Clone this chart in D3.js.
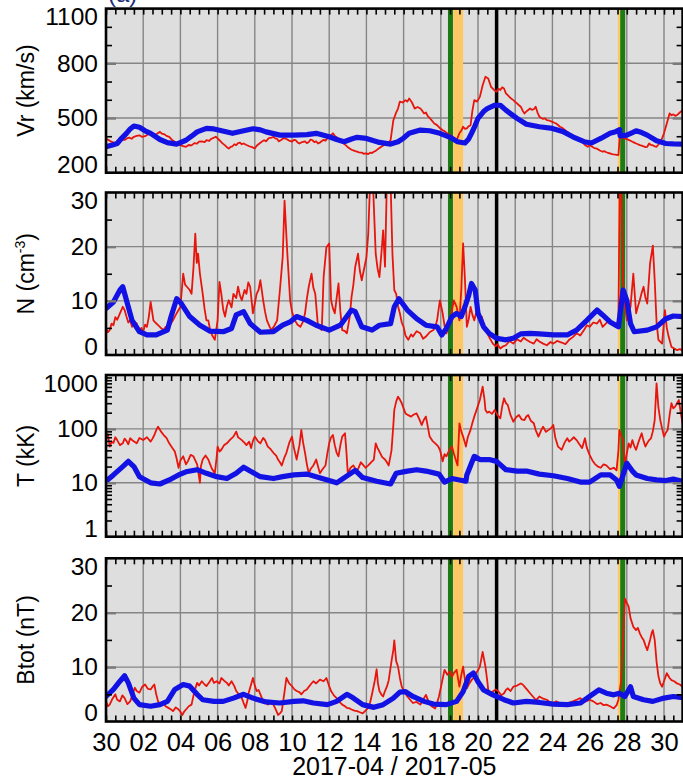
<!DOCTYPE html>
<html><head><meta charset="utf-8">
<script src="https://cdn.jsdelivr.net/npm/d3@7"></script>
<style>
body{margin:0;background:#fff;}
text{font-family:"Liberation Sans",Arial,Helvetica,sans-serif;}
</style>
</head><body>
<svg id="chart" width="683" height="778"></svg>
<script>
// ---------- DATA ----------
const START = Date.UTC(2017, 3, 30);           // 2017-04-30 00:00 UT
const xTickDays   = [0,2,4,6,8,10,12,14,16,18,20,22,24,26,28,30];
const xTickLabels = ["30","02","04","06","08","10","12","14","16","18","20","22","24","26","28","30"];
const xTitle = "2017-04 / 2017-05";
const greenLines = [18.52, 27.78];
const orangeBands = [[18.67, 19.2], [27.52, 27.67]];
const blackLines = [21.0];

const vrTicks = [200, 500, 800, 1100];
const nTicks  = [0, 10, 20, 30];
const tTicks  = [1, 10, 100, 1000];
const bTicks  = [0, 10, 20, 30];

// [day since Apr 30, value]
const vrRed = [[0,388],[0.12,380],[0.25,372],[0.38,366],[0.5,362],[0.62,375],[0.75,370],[0.88,382],[1.0,380],[1.12,388],[1.25,392],[1.38,386],[1.5,397],[1.65,402],[1.8,405],[1.95,396],[2.1,400],[2.25,410],[2.4,416],[2.55,405],[2.7,410],[2.8,418],[2.9,424],[3.0,414],[3.15,410],[3.25,402],[3.4,397],[3.55,380],[3.7,370],[3.85,358],[4.0,351],[4.15,346],[4.3,342],[4.45,352],[4.6,350],[4.75,362],[4.9,360],[5.0,370],[5.15,372],[5.3,368],[5.4,378],[5.55,374],[5.65,385],[5.8,392],[5.9,397],[6.0,388],[6.1,378],[6.25,362],[6.4,350],[6.5,340],[6.6,332],[6.7,342],[6.8,345],[6.9,356],[7.0,351],[7.1,362],[7.2,365],[7.3,356],[7.4,360],[7.55,352],[7.7,345],[7.85,340],[8.0,333],[8.1,348],[8.25,360],[8.4,372],[8.5,378],[8.6,372],[8.75,390],[8.9,392],[9.0,397],[9.1,388],[9.2,385],[9.3,372],[9.4,378],[9.55,390],[9.7,385],[9.85,376],[10.0,370],[10.1,380],[10.2,378],[10.3,366],[10.4,360],[10.55,368],[10.7,372],[10.8,362],[10.9,368],[11.0,382],[11.1,378],[11.2,368],[11.3,372],[11.4,360],[11.5,365],[11.6,374],[11.7,380],[11.8,376],[11.9,388],[12.05,400],[12.2,416],[12.3,402],[12.4,395],[12.5,385],[12.6,378],[12.75,362],[12.9,350],[13.0,340],[13.1,333],[13.2,326],[13.3,322],[13.4,318],[13.5,315],[13.6,312],[13.75,310],[13.85,304],[14.0,306],[14.1,302],[14.2,310],[14.3,308],[14.4,315],[14.5,320],[14.6,328],[14.7,335],[14.8,342],[14.95,352],[15.1,360],[15.2,368],[15.3,378],[15.45,488],[15.6,530],[15.7,552],[15.8,590],[15.95,585],[16.1,598],[16.2,590],[16.3,607],[16.45,585],[16.6,552],[16.75,560],[16.9,552],[17.0,540],[17.1,525],[17.2,530],[17.3,510],[17.4,500],[17.5,488],[17.65,470],[17.8,461],[17.95,445],[18.1,433],[18.2,428],[18.3,420],[18.4,412],[18.5,406],[18.6,396],[18.7,390],[18.85,378],[19.0,416],[19.1,430],[19.2,452],[19.3,440],[19.4,443],[19.5,455],[19.6,461],[19.7,540],[19.8,598],[19.95,590],[20.1,616],[20.25,680],[20.4,726],[20.55,717],[20.7,671],[20.85,655],[21.0,644],[21.1,660],[21.2,653],[21.3,668],[21.4,662],[21.5,635],[21.6,625],[21.7,615],[21.8,605],[21.9,598],[22.0,588],[22.1,580],[22.2,570],[22.3,562],[22.4,540],[22.5,525],[22.65,540],[22.8,552],[22.9,545],[23.0,548],[23.1,562],[23.2,530],[23.3,507],[23.4,500],[23.5,495],[23.6,498],[23.7,488],[23.85,485],[24.0,479],[24.1,474],[24.2,470],[24.3,462],[24.4,452],[24.5,448],[24.6,440],[24.7,432],[24.8,424],[24.95,410],[25.1,397],[25.2,392],[25.3,385],[25.45,378],[25.6,370],[25.75,352],[25.9,342],[26.0,350],[26.1,345],[26.25,335],[26.4,332],[26.55,322],[26.7,315],[26.8,318],[26.9,312],[27.0,308],[27.1,306],[27.2,302],[27.3,300],[27.45,298],[27.55,297],[27.62,397],[27.75,392],[27.9,388],[28.0,384],[28.1,380],[28.2,375],[28.3,370],[28.4,365],[28.5,360],[28.6,356],[28.7,351],[28.8,348],[28.9,345],[29.0,340],[29.1,342],[29.2,360],[29.3,352],[29.4,350],[29.5,345],[29.6,342],[29.7,355],[29.8,370],[29.9,390],[30.0,416],[30.15,470],[30.3,525],[30.4,515],[30.5,520],[30.6,512],[30.7,516],[30.85,530],[31.0,543]];
const vrBlue = [[0,342],[0.3,350],[0.6,360],[0.85,390],[1.1,416],[1.3,440],[1.5,456],[1.8,449],[2.1,430],[2.4,416],[2.9,382],[3.3,365],[3.8,357],[4.3,378],[4.6,400],[4.9,424],[5.4,443],[5.8,440],[6.1,433],[6.8,416],[7.4,430],[7.9,441],[8.3,435],[8.6,424],[9.35,406],[10.1,406],[10.8,409],[11.3,416],[11.7,405],[12.0,397],[12.4,382],[12.8,370],[13.2,385],[13.5,394],[14.0,388],[14.4,375],[14.7,366],[15.3,357],[15.7,370],[16.0,390],[16.3,416],[16.9,434],[17.4,430],[17.95,416],[18.5,394],[18.9,370],[19.3,363],[19.5,385],[19.65,416],[19.85,460],[20.0,498],[20.3,535],[20.5,552],[20.9,570],[21.2,570],[21.5,543],[21.8,520],[22.1,498],[22.6,466],[23.3,452],[24.0,443],[24.6,424],[25.1,397],[25.7,370],[26.1,363],[26.6,388],[27.1,416],[27.4,425],[27.62,436],[27.64,402],[28.0,406],[28.3,420],[28.5,430],[28.8,420],[29.1,406],[29.6,375],[30.1,360],[30.5,358],[31.0,357]];

const nRed = [[0,4.9],[0.1,4.2],[0.2,4.6],[0.3,5.8],[0.4,5.5],[0.5,7.0],[0.6,6.5],[0.75,7.7],[0.9,8.9],[1.0,8.3],[1.1,7.1],[1.2,6.0],[1.3,6.4],[1.4,5.2],[1.5,6.2],[1.65,5.8],[1.8,4.3],[1.9,5.0],[2.0,4.3],[2.1,5.6],[2.2,5.2],[2.3,7.0],[2.4,9.8],[2.55,6.4],[2.65,6.0],[2.8,5.5],[2.95,5.0],[3.1,4.6],[3.2,5.2],[3.3,4.6],[3.45,5.6],[3.6,6.4],[3.75,7.4],[3.9,8.3],[4.0,8.9],[4.15,15.0],[4.25,13.0],[4.35,12.6],[4.5,12.0],[4.6,11.3],[4.7,16.0],[4.8,22.4],[4.88,17.0],[4.95,18.7],[5.05,15.0],[5.2,11.3],[5.3,8.5],[5.4,6.4],[5.5,6.4],[5.6,4.6],[5.7,3.7],[5.85,2.8],[6.0,6.4],[6.1,13.5],[6.2,11.3],[6.3,8.4],[6.4,7.1],[6.5,9.0],[6.6,10.1],[6.75,8.8],[6.85,11.3],[7.0,10.5],[7.1,12.6],[7.2,11.0],[7.3,10.1],[7.45,12.0],[7.55,11.3],[7.65,13.4],[7.75,12.6],[7.9,7.7],[8.0,9.5],[8.1,11.3],[8.2,12.0],[8.3,13.8],[8.45,10.1],[8.55,8.0],[8.65,6.4],[8.8,5.2],[8.9,4.6],[9.05,5.4],[9.2,6.4],[9.35,12.0],[9.5,18.1],[9.6,28.5],[9.75,18.7],[9.9,10.1],[10.0,8.0],[10.15,6.4],[10.3,5.6],[10.45,5.2],[10.6,6.2],[10.7,7.7],[10.8,10.4],[10.9,12.6],[11.05,15.0],[11.15,12.4],[11.25,11.3],[11.4,5.2],[11.6,4.6],[11.7,14.4],[11.85,19.9],[12.0,20.6],[12.1,10.1],[12.2,8.6],[12.3,7.7],[12.4,10.5],[12.5,13.2],[12.6,8.0],[12.7,4.6],[12.85,4.4],[12.95,4.0],[13.1,7.0],[13.2,10.7],[13.3,13.0],[13.4,16.3],[13.55,18.7],[13.65,15.5],[13.75,13.8],[13.9,16.3],[14.0,18.0],[14.1,22.4],[14.2,32],[14.35,32],[14.5,18.7],[14.6,16.0],[14.7,14.4],[14.8,18.5],[14.9,23.0],[15.0,16.3],[15.1,32],[15.3,32],[15.4,18.7],[15.5,12.0],[15.6,11.3],[15.7,9.0],[15.8,7.7],[15.9,6.0],[16.0,5.2],[16.1,3.6],[16.25,2.8],[16.4,3.8],[16.5,3.4],[16.7,4.4],[16.9,4.0],[17.05,3.0],[17.2,3.4],[17.4,4.2],[17.6,4.6],[17.7,5.2],[17.8,6.4],[17.95,10.1],[18.1,7.7],[18.2,5.4],[18.3,4.0],[18.4,5.0],[18.5,6.4],[18.6,8.2],[18.7,10.1],[18.85,8.9],[19.0,6.4],[19.1,12.0],[19.2,20.6],[19.3,13.8],[19.4,5.2],[19.5,6.6],[19.6,8.9],[19.7,7.4],[19.8,6.4],[19.9,7.8],[20.0,8.9],[20.1,6.2],[20.2,7.1],[20.35,5.0],[20.5,4.0],[20.65,3.0],[20.8,2.1],[20.95,1.6],[21.05,2.0],[21.2,1.2],[21.35,1.6],[21.5,1.8],[21.7,2.6],[21.9,2.1],[22.1,2.9],[22.3,2.5],[22.45,3.2],[22.6,2.8],[22.8,2.4],[23.0,2.1],[23.15,2.9],[23.3,2.5],[23.5,2.1],[23.7,1.8],[23.9,2.4],[24.05,2.1],[24.25,2.6],[24.5,2.3],[24.7,2.0],[24.9,2.8],[25.1,3.3],[25.3,4.0],[25.5,3.6],[25.7,4.6],[25.85,5.5],[26.0,5.2],[26.2,6.0],[26.4,5.8],[26.55,6.5],[26.7,5.2],[26.9,5.9],[27.1,6.4],[27.25,5.6],[27.4,5.2],[27.55,6.4],[27.62,32],[27.7,32],[27.8,13.8],[27.9,9.0],[28.0,6.4],[28.1,7.6],[28.2,8.9],[28.35,15.0],[28.5,7.7],[28.6,9.0],[28.7,10.1],[28.8,11.5],[28.9,12.6],[29.0,10.6],[29.1,9.5],[29.25,16.9],[29.4,20.2],[29.5,13.8],[29.6,6.0],[29.7,2.8],[29.9,2.1],[30.05,8.3],[30.15,5.0],[30.25,3.4],[30.4,1.5],[30.55,1.2],[30.7,0.9],[30.85,1.1],[31.0,0.8]];
const nBlue = [[0,8.6],[0.4,9.8],[0.75,12.0],[0.9,12.6],[1.1,10.1],[1.4,6.4],[1.8,4.3],[2.2,3.7],[2.7,3.7],[3.3,4.6],[3.5,7.1],[3.8,10.4],[4.05,9.5],[4.5,7.1],[5.05,5.5],[5.6,4.4],[6.3,4.3],[6.75,4.9],[7.0,7.4],[7.4,8.0],[7.75,5.8],[8.3,4.2],[9.0,4.3],[9.5,5.5],[9.9,6.1],[10.25,7.1],[10.8,6.4],[11.3,5.5],[12.0,4.6],[12.6,5.5],[13.2,8.3],[13.4,8.0],[13.75,5.2],[14.3,4.6],[14.7,5.5],[15.3,5.8],[15.5,8.9],[15.75,10.4],[16.2,8.3],[16.7,6.7],[17.2,5.5],[17.8,5.2],[18.05,3.7],[18.3,4.9],[18.6,7.1],[18.85,7.7],[19.1,7.1],[19.3,8.9],[19.5,11.0],[19.65,13.2],[19.85,12.0],[20.0,7.7],[20.3,5.2],[20.6,4.0],[21.0,3.1],[21.5,2.8],[21.9,3.1],[22.3,3.9],[22.8,4.0],[23.3,3.9],[24.05,3.7],[24.8,3.7],[25.3,4.6],[25.85,6.4],[26.4,8.3],[26.7,7.4],[27.1,6.1],[27.55,5.2],[27.8,12.0],[28.0,10.1],[28.2,5.8],[28.4,4.3],[29.1,4.6],[29.6,5.2],[30.1,6.7],[30.5,7.2],[31.0,7.1]];

const tRed = [[0,62],[0.1,80],[0.2,47],[0.3,58],[0.4,55],[0.5,70],[0.6,62],[0.75,50],[0.9,54],[1.0,66],[1.1,60],[1.2,52],[1.3,67],[1.45,60],[1.65,54],[1.8,68],[2.0,62],[2.2,70],[2.4,58],[2.5,66],[2.6,77],[2.7,95],[2.8,110],[2.95,90],[3.1,77],[3.25,68],[3.4,54],[3.55,45],[3.7,38],[3.8,28],[3.9,19],[4.0,26],[4.15,31],[4.3,22],[4.4,25],[4.55,33],[4.7,31],[4.8,26],[4.9,22],[5.05,10],[5.1,20],[5.2,27],[5.35,32],[5.5,27],[5.6,22],[5.7,18],[5.85,15],[5.95,30],[6.0,47],[6.1,38],[6.2,41],[6.35,50],[6.5,54],[6.65,62],[6.85,72],[7.0,89],[7.1,70],[7.2,66],[7.3,62],[7.45,55],[7.55,50],[7.7,58],[7.8,44],[7.9,60],[8.0,72],[8.15,60],[8.3,54],[8.45,68],[8.55,62],[8.7,47],[8.85,42],[9.0,36],[9.15,32],[9.25,27],[9.35,24],[9.45,21],[9.6,30],[9.7,36],[9.85,55],[10.0,72],[10.1,45],[10.25,27],[10.4,50],[10.5,96],[10.6,55],[10.7,36],[10.8,22],[10.9,15],[11.0,18],[11.15,21],[11.3,27],[11.4,20],[11.5,15],[11.65,18],[11.8,21],[11.9,35],[12.0,54],[12.1,70],[12.2,77],[12.3,50],[12.4,36],[12.5,31],[12.6,50],[12.7,72],[12.85,83],[12.92,40],[13.0,15],[13.15,19],[13.3,21],[13.45,17],[13.55,18],[13.7,24],[13.8,22],[13.95,19],[14.1,21],[14.25,24],[14.4,27],[14.5,54],[14.6,44],[14.7,38],[14.85,30],[15.0,27],[15.1,24],[15.2,21],[15.35,40],[15.45,120],[15.5,225],[15.6,320],[15.7,397],[15.8,350],[15.9,299],[16.0,240],[16.1,194],[16.25,180],[16.4,169],[16.55,185],[16.7,194],[16.85,150],[16.97,118],[17.1,150],[17.2,169],[17.3,110],[17.4,72],[17.55,60],[17.7,54],[17.85,48],[17.95,41],[18.05,30],[18.1,25],[18.2,34],[18.3,31],[18.45,40],[18.6,47],[18.7,35],[18.8,27],[18.9,21],[19.0,127],[19.1,90],[19.2,72],[19.3,55],[19.35,47],[19.45,70],[19.6,96],[19.7,130],[19.8,169],[19.95,240],[20.1,343],[20.25,610],[20.35,350],[20.4,225],[20.5,200],[20.6,209],[20.75,190],[20.9,225],[21.05,180],[21.2,157],[21.3,260],[21.4,370],[21.5,300],[21.6,279],[21.75,180],[21.9,136],[22.05,165],[22.2,181],[22.35,150],[22.5,146],[22.6,170],[22.7,181],[22.85,140],[23.0,127],[23.1,95],[23.25,72],[23.4,95],[23.5,110],[23.65,88],[23.8,96],[23.95,105],[24.05,118],[24.15,70],[24.3,47],[24.4,44],[24.5,41],[24.65,55],[24.8,67],[24.9,58],[25.0,62],[25.15,70],[25.3,62],[25.45,52],[25.6,44],[25.75,67],[25.85,45],[26.0,33],[26.15,26],[26.3,22],[26.45,20],[26.6,19],[26.75,22],[26.9,21],[27.1,18],[27.3,19],[27.45,17],[27.55,40],[27.6,96],[27.7,75],[27.8,62],[27.9,21],[28.0,35],[28.1,54],[28.2,45],[28.3,62],[28.4,48],[28.5,41],[28.65,60],[28.8,83],[28.9,60],[29.0,47],[29.1,55],[29.2,62],[29.3,67],[29.4,90],[29.5,146],[29.6,701],[29.7,250],[29.8,146],[29.9,100],[30.0,72],[30.1,85],[30.2,96],[30.3,180],[30.4,299],[30.5,240],[30.6,259],[30.7,300],[30.8,343],[30.9,200],[31.0,127]];
const tBlue = [[0,10.7],[0.4,14],[0.9,20],[1.2,25],[1.5,20],[1.8,13],[2.4,10],[2.9,9.5],[3.4,11.3],[3.9,14],[4.3,16],[4.9,17.5],[5.4,15],[5.95,13],[6.5,12],[7.0,15],[7.4,19.5],[7.75,16.5],[8.3,13],[9.0,12],[9.5,13],[10.1,14],[10.8,14.5],[11.3,13],[11.9,11.3],[12.4,10],[12.9,13],[13.4,17],[13.8,12.5],[14.55,10.7],[15.3,9.5],[15.6,15],[16.2,16.5],[16.7,17.5],[17.2,16.5],[17.9,14.5],[18.2,10.3],[18.6,12],[19.0,11.3],[19.35,10.7],[19.4,14],[19.65,23],[19.8,31],[20.1,27],[20.6,27],[21.0,25],[21.5,17.5],[22.1,16.5],[22.6,16.5],[23.3,14.5],[24.05,13.5],[24.8,12],[25.5,10.3],[26.0,10.3],[26.6,14],[27.1,14],[27.45,11.3],[27.6,8.6],[27.8,14],[28.0,23],[28.3,16.5],[28.5,14],[29.1,12],[29.6,11.3],[30.1,11],[30.5,11.7],[31.0,10.7]];

const bRed = [[0,3.7],[0.1,2.8],[0.2,3.1],[0.35,4.2],[0.5,5.0],[0.6,4.0],[0.75,3.7],[0.88,4.8],[1.0,4.3],[1.15,3.2],[1.3,3.7],[1.45,5.2],[1.55,6.2],[1.65,5.6],[1.8,5.3],[1.95,6.4],[2.1,6.8],[2.25,6.0],[2.4,5.9],[2.5,6.4],[2.6,6.8],[2.7,5.0],[2.8,3.7],[2.95,3.0],[3.1,3.4],[3.2,2.8],[3.35,2.5],[3.5,2.2],[3.6,1.9],[3.75,2.6],[3.9,2.2],[4.0,1.8],[4.1,1.2],[4.2,1.8],[4.3,2.2],[4.45,2.8],[4.6,3.1],[4.75,5.5],[4.9,7.1],[5.0,6.6],[5.15,7.4],[5.3,6.8],[5.4,6.5],[5.55,7.2],[5.7,8.0],[5.8,7.1],[5.95,7.4],[6.1,7.0],[6.2,8.0],[6.35,7.5],[6.5,7.1],[6.6,6.6],[6.75,7.4],[6.9,6.5],[7.0,5.6],[7.15,5.0],[7.3,4.3],[7.4,3.4],[7.5,2.5],[7.6,3.8],[7.65,5.0],[7.8,6.8],[7.9,8.0],[8.0,6.6],[8.1,5.6],[8.2,5.8],[8.3,5.0],[8.45,3.7],[8.6,3.4],[8.7,3.1],[8.85,3.5],[9.0,3.1],[9.1,2.4],[9.25,1.2],[9.35,1.5],[9.45,1.9],[9.6,5.5],[9.7,8.0],[9.85,7.0],[10.0,6.5],[10.1,6.0],[10.25,5.6],[10.4,5.4],[10.5,5.0],[10.65,5.6],[10.8,5.9],[11.0,6.8],[11.15,7.4],[11.3,7.0],[11.5,7.7],[11.7,7.4],[11.85,8.0],[12.0,6.5],[12.1,5.6],[12.25,4.8],[12.4,4.3],[12.55,3.6],[12.7,3.1],[12.85,2.8],[12.95,2.5],[13.1,2.4],[13.2,2.2],[13.35,2.0],[13.5,1.9],[13.65,1.7],[13.8,1.5],[13.95,2.0],[14.1,2.5],[14.2,3.5],[14.3,5.0],[14.45,7.5],[14.55,9.6],[14.62,7.0],[14.7,5.6],[14.8,5.0],[14.9,4.6],[15.0,5.6],[15.1,6.4],[15.2,7.6],[15.35,11.1],[15.45,13.2],[15.5,14.9],[15.6,11.1],[15.7,10.1],[15.8,8.0],[15.9,6.4],[16.05,5.4],[16.2,4.6],[16.35,4.0],[16.5,3.4],[16.7,3.6],[16.9,3.1],[17.05,4.0],[17.2,4.9],[17.35,3.6],[17.5,2.8],[17.7,2.4],[17.8,3.4],[17.9,4.6],[18.05,7.0],[18.2,9.5],[18.35,8.6],[18.5,9.2],[18.6,8.2],[18.7,8.9],[18.85,9.5],[19.0,6.4],[19.1,8.5],[19.2,10.1],[19.3,7.6],[19.4,6.1],[19.5,6.8],[19.65,7.6],[19.8,8.2],[19.9,8.9],[20.0,9.4],[20.1,10.1],[20.25,12.8],[20.4,10.1],[20.5,7.4],[20.55,5.8],[20.7,5.2],[20.8,5.5],[20.95,5.9],[21.1,5.5],[21.25,4.8],[21.4,5.2],[21.5,5.8],[21.6,6.1],[21.75,5.6],[21.9,6.4],[22.1,6.6],[22.3,7.0],[22.4,6.8],[22.5,6.4],[22.65,5.8],[22.8,5.2],[22.95,4.6],[23.1,4.0],[23.2,4.2],[23.3,4.6],[23.5,4.2],[23.7,4.0],[23.85,3.6],[24.05,3.4],[24.2,3.7],[24.4,3.4],[24.6,3.0],[24.8,3.1],[24.95,3.5],[25.1,3.7],[25.3,4.0],[25.5,4.3],[25.65,3.8],[25.8,3.7],[26.0,4.0],[26.2,3.7],[26.4,3.2],[26.6,3.4],[26.75,3.0],[26.9,3.1],[27.1,2.8],[27.3,2.4],[27.45,3.0],[27.55,4.0],[27.7,7.6],[27.8,15.0],[27.9,22.6],[28.0,21.8],[28.1,21.1],[28.2,19.0],[28.35,17.4],[28.5,16.8],[28.6,17.2],[28.7,16.2],[28.8,15.5],[28.9,15.0],[29.0,14.0],[29.1,13.1],[29.25,15.0],[29.35,16.4],[29.4,16.8],[29.5,15.0],[29.6,11.0],[29.7,8.3],[29.8,7.0],[29.9,6.4],[30.0,7.4],[30.15,8.9],[30.3,8.0],[30.4,7.6],[30.55,7.4],[30.7,7.0],[30.85,6.8],[31.0,6.4]];
const bBlue = [[0,4.6],[0.4,5.9],[0.75,7.4],[1.0,8.4],[1.2,7.1],[1.5,4.3],[1.8,3.1],[2.4,2.8],[2.9,3.1],[3.3,3.7],[3.7,5.9],[4.15,6.8],[4.5,6.5],[4.9,5.0],[5.2,4.0],[5.8,3.7],[6.3,3.7],[6.85,4.3],[7.4,5.0],[7.9,4.3],[8.6,3.6],[9.35,3.4],[10.1,3.7],[10.6,3.8],[11.15,3.4],[11.9,3.1],[12.4,3.7],[12.95,5.0],[13.3,4.3],[13.8,3.1],[14.4,2.6],[14.9,3.1],[15.45,4.3],[15.8,5.4],[16.1,5.5],[16.5,4.6],[17.1,3.7],[17.6,3.2],[18.3,3.1],[18.85,3.7],[19.2,5.5],[19.5,8.3],[19.75,8.9],[20.0,7.3],[20.3,5.8],[20.8,4.9],[21.4,4.0],[21.9,3.4],[22.6,3.7],[23.3,3.5],[24.05,3.2],[24.8,3.1],[25.5,3.4],[26.0,4.6],[26.5,5.8],[26.9,5.2],[27.3,4.9],[27.6,5.2],[27.9,4.6],[28.2,6.4],[28.35,4.6],[28.9,4.0],[29.4,3.7],[30.0,4.3],[30.5,4.6],[31.0,4.4]];

// ---------- DRAWING ----------
const DAY = 864e5;
const toDate = d => new Date(START + d * DAY);
const svg = d3.select("#chart");
const X0 = 106, X1 = 682.6;
const x = d3.scaleUtc().domain([toDate(0), toDate(31)]).range([X0, X1]);

const C = {bg:"#dedede", grid:"#858585", red:"#e8150d", blue:"#1212e4", green:"#1e7a12", orange:"#fdc764", black:"#000"};

const panels = [
  {id:"vr", top:8.6, bottom:172.7, y:d3.scaleLinear().domain([200,1100]), ticks:vrTicks, minor:d3.range(200,1101,100), red:vrRed, blue:vrBlue, title:"Vr (km/s)"},
  {id:"n",  top:192.5, bottom:355, y:d3.scaleLinear().domain([0,30]), ticks:nTicks, minor:d3.range(0,31,5), red:nRed, blue:nBlue, title:"N (cm", sup:"-3", tail:")"},
  {id:"t",  top:375, bottom:536.7, y:d3.scaleLog().domain([1,1000]), ticks:tTicks, minor:[1,10,100].flatMap(p=>d3.range(1,10).map(k=>k*p)).concat([1000]), red:tRed, blue:tBlue, title:"T (kK)"},
  {id:"b",  top:558.3, bottom:721.5, y:d3.scaleLinear().domain([0,30]), ticks:bTicks, minor:d3.range(0,31,5), red:bRed, blue:bBlue, title:"Btot (nT)"}
];

const minorX = d3.range(0, 31.01, 0.5).map(toDate);
const majorX = xTickDays.map(toDate);

// cut-off header text at the very top
svg.append("text").attr("x", 108).attr("y", 2).attr("fill", "#1d2a7a")
  .style("font-size", "24px").text("(a)");

panels.forEach((p, i) => {
  const y = p.y.range([p.bottom, p.top]);
  const g = svg.append("g");
  const w = X1 - X0, h = p.bottom - p.top;
  const clipId = "clip" + i;
  svg.append("clipPath").attr("id", clipId).append("rect")
    .attr("x", X0).attr("y", p.top).attr("width", w).attr("height", h);

  g.append("rect").attr("x", X0).attr("y", p.top).attr("width", w).attr("height", h).attr("fill", C.bg);

  // grid
  g.selectAll(".vg").data(majorX.slice(1)).join("line")
    .attr("x1", d => x(d)).attr("x2", d => x(d)).attr("y1", p.top).attr("y2", p.bottom)
    .attr("stroke", C.grid).attr("stroke-width", 1.4);
  g.selectAll(".hg").data(p.ticks.slice(1, -1)).join("line")
    .attr("x1", X0).attr("x2", X1).attr("y1", d => y(d)).attr("y2", d => y(d))
    .attr("stroke", C.grid).attr("stroke-width", 1.4);

  // event markers
  orangeBands.forEach(b => g.append("rect").attr("x", x(toDate(b[0]))).attr("width", x(toDate(b[1])) - x(toDate(b[0])))
    .attr("y", p.top).attr("height", h).attr("fill", C.orange));
  greenLines.forEach(d => g.append("line").attr("x1", x(toDate(d))).attr("x2", x(toDate(d)))
    .attr("y1", p.top).attr("y2", p.bottom).attr("stroke", C.green).attr("stroke-width", 5));
  blackLines.forEach(d => g.append("line").attr("x1", x(toDate(d))).attr("x2", x(toDate(d)))
    .attr("y1", p.top).attr("y2", p.bottom).attr("stroke", C.black).attr("stroke-width", 3.5));

  const line = d3.line().x(d => x(toDate(d[0]))).y(d => y(d[1]));
  const dg = g.append("g").attr("clip-path", `url(#${clipId})`);
  dg.append("path").attr("d", line(p.red)).attr("fill", "none").attr("stroke", C.red)
    .attr("stroke-width", 1.8).attr("stroke-linejoin", "round");
  dg.append("path").attr("d", line(p.blue)).attr("fill", "none").attr("stroke", C.blue)
    .attr("stroke-width", 5.2).attr("stroke-linejoin", "round").attr("stroke-linecap", "round");

  // x minor ticks (inward) top & bottom
  const axB = g.append("g").attr("transform", `translate(0,${p.bottom})`)
    .call(d3.axisBottom(x).tickValues(minorX).tickSize(-6).tickFormat(""));
  const axT = g.append("g").attr("transform", `translate(0,${p.top})`)
    .call(d3.axisTop(x).tickValues(minorX).tickSize(-6).tickFormat(""));
  [axB, axT].forEach(a => { a.select(".domain").remove(); a.selectAll("line").attr("stroke", "#000").attr("stroke-width", 1.6); });

  // y minor ticks
  const minorVals = p.minor.filter(v => !p.ticks.includes(v));
  const ayl = g.append("g").attr("transform", `translate(${X0},0)`)
    .call(d3.axisLeft(y).tickValues(minorVals).tickSize(-6).tickFormat(""));
  const ayr = g.append("g").attr("transform", `translate(${X1},0)`)
    .call(d3.axisRight(y).tickValues(minorVals).tickSize(-6).tickFormat(""));
  [ayl, ayr].forEach(a => { a.select(".domain").remove(); a.selectAll("line").attr("stroke", "#000").attr("stroke-width", 1.6); });
  // y major ticks (grey)
  const ayl2 = g.append("g").attr("transform", `translate(${X0},0)`)
    .call(d3.axisLeft(y).tickValues(p.ticks.slice(1, -1)).tickSize(-10).tickFormat(""));
  const ayr2 = g.append("g").attr("transform", `translate(${X1},0)`)
    .call(d3.axisRight(y).tickValues(p.ticks.slice(1, -1)).tickSize(-10).tickFormat(""));
  [ayl2, ayr2].forEach(a => { a.select(".domain").remove(); a.selectAll("line").attr("stroke", "#7a7a7a").attr("stroke-width", 2.4); });

  // border
  g.append("rect").attr("x", X0).attr("y", p.top).attr("width", w).attr("height", h)
    .attr("fill", "none").attr("stroke", "#000").attr("stroke-width", 2.6);

  // y labels
  const lab = g.append("g").attr("transform", `translate(${X0},0)`)
    .call(d3.axisLeft(y).tickValues(p.ticks).tickSize(0).tickPadding(8).tickFormat(d3.format("d")));
  lab.select(".domain").remove();
  lab.selectAll("text").style("font-size", "24.5px").attr("fill", "#000")
    .attr("y", (d, k) => k === 0 ? -8.4 : (k === p.ticks.length - 1 ? 8.4 : 0));

  // y title
  const ty = (p.top + p.bottom) / 2;
  const t = svg.append("text").attr("transform", `translate(33.5,${ty}) rotate(-90)`)
    .attr("text-anchor", "middle").style("font-size", "23px").attr("fill", "#000");
  t.append("tspan").text(p.title);
  if (p.sup) {
    t.append("tspan").attr("dy", -9).style("font-size", "14px").text(p.sup);
    t.append("tspan").attr("dy", 9).text(p.tail);
  }

  // bottom labels
  if (i === panels.length - 1) {
    const lx = g.append("g").attr("transform", `translate(0,${p.bottom})`)
      .call(d3.axisBottom(x).tickValues(majorX).tickSize(0).tickFormat((d, k) => xTickLabels[k]));
    lx.select(".domain").remove();
    lx.selectAll("text").style("font-size", "25.5px").attr("fill", "#000").attr("y", 29).attr("dy", 0);
    svg.append("text").attr("x", (X0 + X1) / 2).attr("y", 775).attr("text-anchor", "middle")
      .style("font-size", "25px").attr("fill", "#000").text(xTitle);
  }
});
</script>
</body></html>
